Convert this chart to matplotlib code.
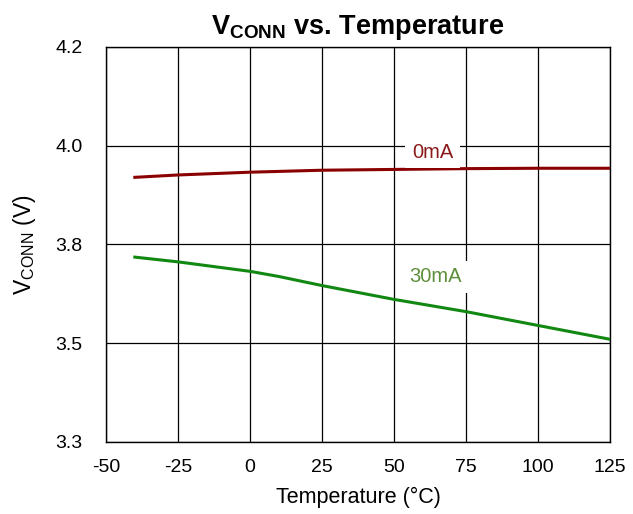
import matplotlib
matplotlib.use('Agg')
from matplotlib import pyplot as plt

# Данные
temp = [-40, -25, 0, 10, 25, 50, 75, 100, 125]
v_0ma = [3.920, 3.926, 3.933, 3.935, 3.938, 3.940, 3.942, 3.943, 3.943]
v_30ma = [3.718, 3.706, 3.682, 3.669, 3.646, 3.611, 3.580, 3.545, 3.510]

x_ticks = [-50, -25, 0, 25, 50, 75, 100, 125]
y_ticks = [3.25, 3.5, 3.75, 4.0, 4.25]
y_labels = ['3.3', '3.5', '3.8', '4.0', '4.2']

plt.rcParams['font.family'] = ['Liberation Sans', 'DejaVu Sans']
plt.rcParams['axes.unicode_minus'] = False

fig = plt.figure(figsize=(6.33, 5.14), dpi=100)
ax = fig.add_axes([0.1675, 0.1401, 0.7962, 0.7685])

ax.plot(temp, v_0ma, color='#8b0000', lw=2.2, zorder=3)
ax.plot(temp, v_30ma, color='#118811', lw=2.2, zorder=3)

ax.set_xlim(-50, 125)
ax.set_ylim(3.25, 4.25)
ax.set_xticks(x_ticks)
ax.set_yticks(y_ticks)
ax.set_yticklabels(y_labels)
ax.tick_params(length=0, labelsize=14)
ax.tick_params(axis='x', pad=12)
ax.tick_params(axis='y', pad=17)
ax.grid(True, color='black', lw=0.9)
for s in ax.spines.values():
    s.set_color('black')
    s.set_linewidth(1.0)

ax.text(63.5, 3.984, '0mA', color='#8b1a1a', fontsize=14.5, ha='center', va='center',
        bbox=dict(facecolor='white', edgecolor='none', pad=5), zorder=4)
ax.text(64.5, 3.668, '30mA', color='#5e8f3a', fontsize=14.5, ha='center', va='center',
        bbox=dict(facecolor='white', edgecolor='none', pad=5), zorder=4)

ax.set_xlabel('Temperature (°C)', fontsize=15.5, labelpad=8)
ax.set_ylabel('V$_{\\mathregular{CONN}}$ (V)', fontsize=16.5, labelpad=12)
ax.set_title('V$_{\\mathregular{CONN}}$ vs. Temperature', fontsize=19.5, fontweight='bold', pad=9)

fig.savefig('out.png', dpi=100)
